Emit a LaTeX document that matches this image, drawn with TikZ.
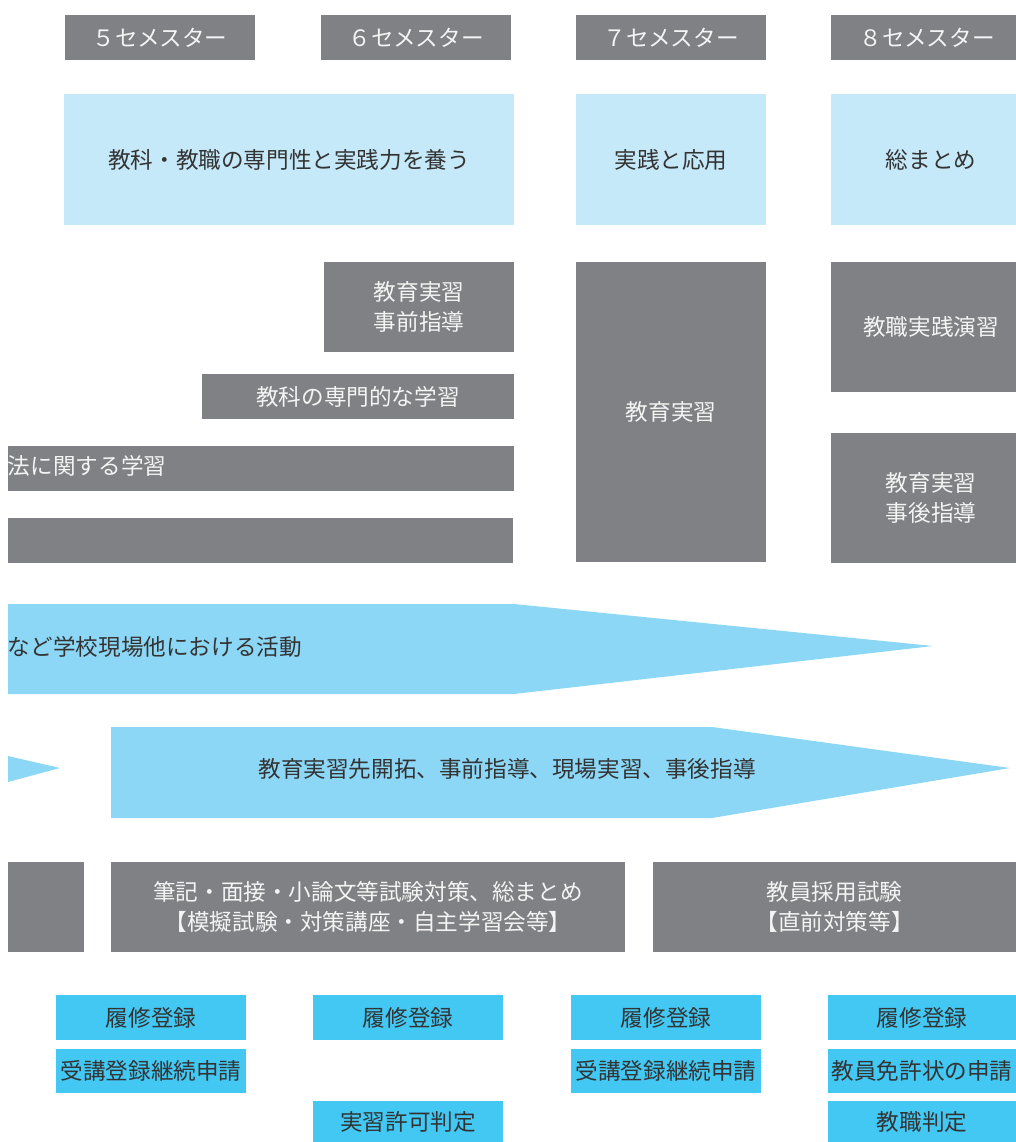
\documentclass[tikz,border=0pt]{standalone}
\usepackage{fontspec}
\setmainfont{Noto Sans CJK JP}
\definecolor{gr}{HTML}{808185}
\definecolor{gtext}{HTML}{F4F4F4}
\definecolor{lb}{HTML}{C6E9F9}
\definecolor{ab}{HTML}{8DD7F6}
\definecolor{bb}{HTML}{42C8F3}
\definecolor{dk}{HTML}{333333}
\tikzset{
  box/.style={anchor=north west, inner sep=0pt, outer sep=0pt, align=center, font=\fontsize{22.6}{30}\selectfont},
  gbox/.style={box, fill=gr, text=gtext},
  lbox/.style={box, fill=lb, text=dk},
  bbox/.style={box, fill=bb, text=dk},
  arr/.style={fill=ab, draw=none},
  lab/.style={inner sep=0pt, outer sep=0pt, font=\fontsize{22.6}{30}\selectfont}
}
\newcommand\bx[7]{\node[#1, minimum width=#5pt, minimum height=#6pt] (#2) at (#3,#4) {#7};}
\begin{document}
\begin{tikzpicture}[x=1pt,y=-1pt]
\useasboundingbox (0,0) rectangle (1016,1142);
% headers
\bx{gbox}{s5}{65}{15}{190}{45}{５セメスター}
\bx{gbox}{s6}{321}{15}{190}{45}{６セメスター}
\bx{gbox}{s7}{576}{15}{190}{45}{７セメスター}
\bx{gbox}{s8}{831}{15}{192}{45}{８セメスター}
% light blue
\bx{lbox}{g56}{64}{94}{450}{131}{教科・教職の専門性と実践力を養う}
\bx{lbox}{g7}{576}{94}{190}{131}{実践と応用}
\bx{lbox}{g8}{831}{94}{200}{131}{総まとめ}
% gray course boxes
\bx{gbox}{pre}{324}{262}{190}{90}{教育実習\\事前指導}
\bx{gbox}{senmon}{202}{374}{312}{45}{教科の専門的な学習}
\bx{gbox}{hou}{8}{446}{506}{45}{}
\node[lab, anchor=west, text=gtext] (houtxt) at (8,466) {法に関する学習};
\bx{gbox}{blank}{8}{518}{505}{45}{}
\bx{gbox}{jisshu}{576}{262}{190}{300}{教育実習}
\bx{gbox}{enshu}{831}{262}{200}{130}{教職実践演習}
\bx{gbox}{post}{831}{433}{200}{130}{教育実習\\事後指導}
% arrows
\fill[arr] (8,604) -- (514,604) -- (933,646) -- (514,694) -- (8,694) -- cycle;
\node[lab, anchor=west, text=dk] (act) at (8,647) {など学校現場他における活動};
\fill[arr] (8,756) -- (60,768) -- (8,782) -- cycle;
\fill[arr] (111,727) -- (712,727) -- (1010,768) -- (712,818) -- (111,818) -- cycle;
\node[lab, text=dk] (flow) at (507,769) {教育実習先開拓、事前指導、現場実習、事後指導};
% exam boxes
\bx{gbox}{e0}{8}{862}{76}{90}{}
\bx{gbox}{e1}{111}{862}{514}{90}{筆記・面接・小論文等試験対策、総まとめ\\【模擬試験・対策講座・自主学習会等】}
\bx{gbox}{e2}{653}{862}{363}{90}{教員採用試験\\【直前対策等】}
% bottom
\bx{bbox}{r5}{56}{995}{190}{45}{履修登録}
\bx{bbox}{k5}{56}{1049}{190}{44}{受講登録継続申請}
\bx{bbox}{r6}{313}{995}{190}{45}{履修登録}
\bx{bbox}{h6}{313}{1101}{190}{41}{実習許可判定}
\bx{bbox}{r7}{571}{995}{190}{45}{履修登録}
\bx{bbox}{k7}{571}{1049}{190}{44}{受講登録継続申請}
\bx{bbox}{r8}{828}{995}{188}{45}{履修登録}
\bx{bbox}{m8}{828}{1049}{188}{44}{教員免許状の申請}
\bx{bbox}{h8}{828}{1101}{188}{41}{教職判定}
\end{tikzpicture}
\end{document}
